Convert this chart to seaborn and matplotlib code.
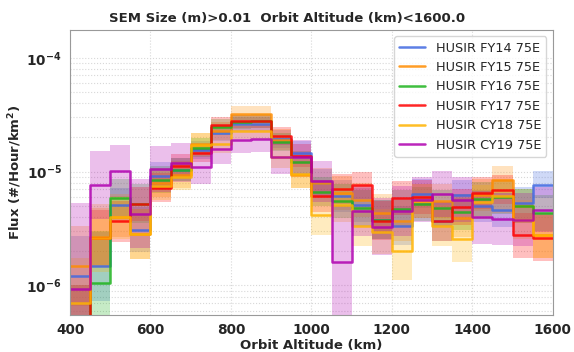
import numpy as np
import pandas as pd
import matplotlib
matplotlib.use("Agg")
import matplotlib.pyplot as plt
import seaborn as sns

# Altitude bin edges (km)
edges = list(range(400, 1601, 50))

labels = ["HUSIR FY14 75E", "HUSIR FY15 75E", "HUSIR FY16 75E",
          "HUSIR FY17 75E", "HUSIR CY18 75E", "HUSIR CY19 75E"]

fy14 = [1.22e-6, 1.47e-6, 5.06e-6, 3.10e-6, 9.23e-6, 1.04e-5, 1.56e-5, 2.20e-5,
        2.64e-5, 2.64e-5, 1.95e-5, 1.47e-5, 8.01e-6, 6.07e-6, 5.14e-6, 3.79e-6,
        3.36e-6, 6.41e-6, 3.66e-6, 6.28e-6, 5.03e-6, 4.64e-6, 5.31e-6, 7.69e-6]
fy15 = [1.48e-6, 2.69e-6, 4.03e-6, 2.86e-6, 8.01e-6, 9.41e-6, 1.76e-5, 2.26e-5,
        3.23e-5, 3.23e-5, 1.91e-5, 9.41e-6, 8.00e-6, 6.55e-6, 5.68e-6, 4.34e-6,
        3.72e-6, 5.49e-6, 5.49e-6, 3.95e-6, 6.28e-6, 8.51e-6, 5.00e-6, 2.75e-6]
fy16 = [4.0e-7, 1.06e-6, 5.91e-6, 5.24e-6, 8.51e-6, 1.04e-5, 1.63e-5, 2.45e-5,
        2.75e-5, 2.80e-5, 1.83e-5, 1.21e-5, 6.68e-6, 5.49e-6, 4.81e-6, 3.79e-6,
        4.73e-6, 5.24e-6, 4.81e-6, 4.43e-6, 5.76e-6, 5.95e-6, 5.03e-6, 4.34e-6]
fy17 = [4.0e-7, 2.60e-6, 3.66e-6, 5.24e-6, 7.24e-6, 1.13e-5, 1.46e-5, 2.58e-5,
        2.76e-5, 2.76e-5, 2.07e-5, 1.38e-5, 6.07e-6, 7.05e-6, 7.59e-6, 3.72e-6,
        5.88e-6, 5.95e-6, 3.66e-6, 4.90e-6, 6.50e-6, 6.95e-6, 2.75e-6, 2.62e-6]
cy18 = [6.95e-7, 2.60e-6, 4.03e-6, 2.86e-6, 7.54e-6, 9.04e-6, 1.73e-5, 1.76e-5,
        2.26e-5, 2.29e-5, 1.35e-5, 9.60e-6, 4.14e-6, 5.14e-6, 3.36e-6, 2.98e-6,
        2.00e-6, 5.49e-6, 3.36e-6, 2.57e-6, 5.42e-6, 6.07e-6, 3.79e-6, 2.75e-6]
cy19 = [9.4e-7, 7.69e-6, 1.01e-5, 4.28e-6, 1.06e-5, 1.20e-5, 1.11e-5, 1.59e-5,
        1.91e-5, 1.95e-5, 1.35e-5, 1.35e-5, 8.22e-6, 1.60e-6, 4.55e-6, 3.27e-6,
        4.55e-6, 5.68e-6, 6.37e-6, 5.68e-6, 3.97e-6, 3.85e-6, 3.79e-6, 4.64e-6]

# Uncertainty band half-widths (dex)
err14 = [0.35, 0.30, 0.15, 0.20, 0.12, 0.10, 0.08, 0.07, 0.06, 0.06, 0.08, 0.10,
         0.12, 0.14, 0.15, 0.17, 0.17, 0.13, 0.17, 0.13, 0.14, 0.15, 0.14, 0.12]
err15 = [0.35, 0.25, 0.18, 0.22, 0.13, 0.12, 0.09, 0.08, 0.07, 0.07, 0.09, 0.12,
         0.13, 0.15, 0.15, 0.17, 0.18, 0.15, 0.15, 0.17, 0.14, 0.12, 0.15, 0.20]
err16 = [0.40, 0.45, 0.16, 0.17, 0.12, 0.10, 0.08, 0.07, 0.06, 0.06, 0.08, 0.10,
         0.13, 0.15, 0.16, 0.17, 0.16, 0.15, 0.16, 0.16, 0.15, 0.15, 0.15, 0.16]
err17 = [0.40, 0.25, 0.18, 0.15, 0.13, 0.10, 0.08, 0.07, 0.06, 0.06, 0.08, 0.10,
         0.14, 0.13, 0.12, 0.17, 0.15, 0.15, 0.17, 0.16, 0.14, 0.13, 0.20, 0.20]
err18 = [0.40, 0.30, 0.20, 0.22, 0.13, 0.12, 0.10, 0.08, 0.07, 0.07, 0.10, 0.13,
         0.17, 0.15, 0.18, 0.20, 0.25, 0.15, 0.18, 0.20, 0.15, 0.15, 0.17, 0.20]
err19 = [0.75, 0.30, 0.23, 0.30, 0.20, 0.17, 0.15, 0.13, 0.12, 0.12, 0.15, 0.15,
         0.18, 0.50, 0.22, 0.25, 0.22, 0.20, 0.20, 0.20, 0.23, 0.23, 0.23, 0.20]

series = [fy14, fy15, fy16, fy17, cy18, cy19]
errors = [err14, err15, err16, err17, err18, err19]
colors = ["royalblue", "darkorange", "#1db31d", "red", "#ffb300", "#b000b0"]

sns.set_style("white")
plt.rcParams["font.family"] = ["DejaVu Sans"]

fig = plt.figure(figsize=(5.74, 3.52), dpi=100)
ax = fig.add_axes([0.122, 0.105, 0.841, 0.81])

for lab, vals, err, col in zip(labels, series, errors, colors):
    v = np.array(vals + [vals[-1]])
    e = np.array(err + [err[-1]])
    lo = v / 10 ** e
    hi = v * 10 ** e
    ax.fill_between(edges, lo, hi, step="post", color=col, alpha=0.25, lw=0)
    df = pd.DataFrame({"x": edges, "y": v})
    sns.lineplot(data=df, x="x", y="y", drawstyle="steps-post", color=col,
                 lw=1.8, alpha=0.85, label=lab, ax=ax)

ax.set_yscale("log")
ax.set_xlim(400, 1600)
ax.set_ylim(5.5e-7, 1.76e-4)
ax.set_xticks(range(400, 1601, 200))
ax.grid(True, which="major", color="#d8d8d8", lw=0.8, ls=":")
ax.grid(True, which="minor", axis="y", color="#d8d8d8", lw=0.8, ls=":")

ax.set_xlabel("Orbit Altitude (km)", fontsize=9.5, fontweight="bold", labelpad=1)
ax.set_ylabel("Flux (#/Hour/km$^{\\mathbf{2}}$)", fontsize=9.5,
              fontweight="bold", labelpad=2)
fig.suptitle("SEM Size (m)>0.01  Orbit Altitude (km)<1600.0", fontsize=9.5,
             fontweight="bold", x=0.5, y=0.965)
for t in ax.get_xticklabels() + ax.get_yticklabels():
    t.set_fontweight("bold")
    t.set_fontsize(9.8)
ax.tick_params(axis="both", which="major", length=4, pad=2, color="black")
ax.tick_params(axis="y", which="minor", length=2)
for s in ax.spines.values():
    s.set_color("#999999")

leg = ax.legend(loc="upper right", fontsize=9.3, frameon=True)
leg.get_frame().set_edgecolor("#cccccc")

fig.savefig("out.png", dpi=100)
